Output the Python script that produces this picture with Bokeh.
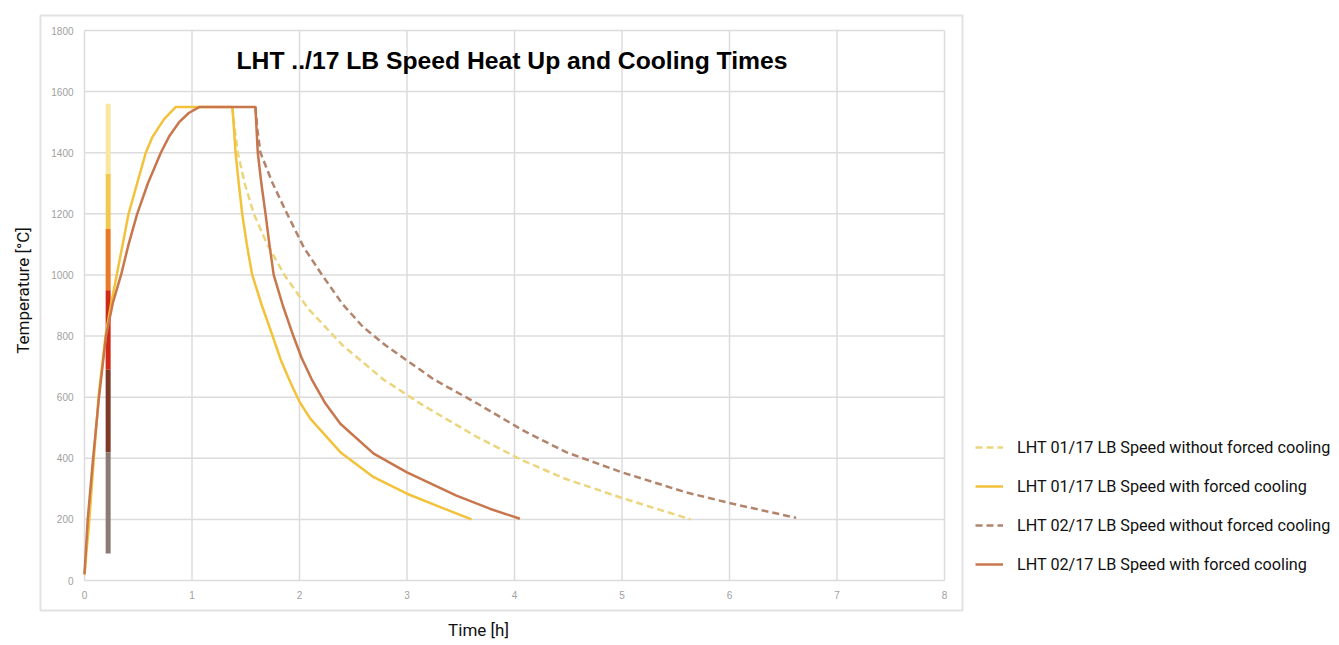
import math
from bokeh.plotting import figure
from bokeh.models import Legend, LegendItem, Label, Range1d
from bokeh.core.properties import value
from bokeh.embed import file_html
from bokeh.resources import INLINE

# ---------------- data ----------------
x_ticks = [0, 1, 2, 3, 4, 5, 6, 7, 8]
y_ticks = [0, 200, 400, 600, 800, 1000, 1200, 1400, 1600, 1800]

# LHT 01/17 with forced cooling (heat up, hold, forced cooling)
t01_forced = [0.0, 0.02, 0.04, 0.087, 0.133, 0.195, 0.25, 0.30, 0.355, 0.41, 0.49, 0.57, 0.63, 0.74, 0.85,
              1.375, 1.39, 1.405, 1.435, 1.467, 1.51, 1.56, 1.65, 1.75, 1.83, 1.92, 2.0, 2.10, 2.38, 2.69, 3.0, 3.31, 3.6]
T01_forced = [20, 100, 175, 400, 610, 800, 910, 1000, 1100, 1200, 1300, 1400, 1450, 1510, 1550,
              1550, 1480, 1400, 1300, 1200, 1100, 1000, 900, 800, 718, 645, 585, 530, 420, 338, 284, 240, 200]

# LHT 01/17 without forced cooling
t01_free = [1.375, 1.40, 1.426, 1.49, 1.575, 1.70, 1.86, 2.08, 2.40, 2.78, 3.15, 3.65, 4.08, 4.48, 5.0, 5.3, 5.64]
T01_free = [1550, 1470, 1400, 1300, 1200, 1100, 1000, 890, 770, 658, 573, 470, 392, 332, 270, 237, 200]

# LHT 02/17 with forced cooling
t02_forced = [0.0, 0.03, 0.08, 0.135, 0.20, 0.265, 0.34, 0.41, 0.49, 0.59, 0.71, 0.79, 0.88, 0.97, 1.07,
              1.59, 1.60, 1.612, 1.645, 1.684, 1.72, 1.76, 1.845, 1.943, 2.02, 2.12, 2.24, 2.38, 2.69, 3.0, 3.46, 3.77, 4.05]
T02_forced = [20, 200, 400, 600, 800, 910, 1000, 1100, 1200, 1300, 1400, 1455, 1500, 1530, 1550,
              1550, 1480, 1400, 1300, 1200, 1100, 1000, 900, 800, 728, 654, 580, 513, 415, 354, 278, 235, 202]

# LHT 02/17 without forced cooling
t02_free = [1.59, 1.61, 1.637, 1.75, 1.885, 2.04, 2.21, 2.4, 2.59, 2.8, 3.0, 3.25, 3.65, 4.08, 4.48, 5.0, 5.59, 6.03, 6.62]
T02_free = [1550, 1470, 1400, 1300, 1200, 1090, 1000, 905, 830, 770, 720, 658, 580, 491, 420, 354, 289, 251, 205]

# coloured vertical bar near the start
bar_t = 0.22
bar_T_top = [1560, 1330, 1150, 950, 690, 420]
bar_T_bottom = [1330, 1150, 950, 690, 420, 88]
bar_colors = ["#F8E7A0", "#F2C850", "#E97A28", "#D02A16", "#7E3A26", "#8C7B74"]

labels = ["LHT 01/17 LB Speed without forced cooling",
          "LHT 01/17 LB Speed with forced cooling",
          "LHT 02/17 LB Speed without forced cooling",
          "LHT 02/17 LB Speed with forced cooling"]
colors = ["#EBD57E", "#F2C23A", "#B3846C", "#C8764C"]

title_text = "LHT ../17 LB Speed Heat Up and Cooling Times"
x_title = "Time [h]"
y_title = "Temperature [°C]"

# ---------------- layout (page pixels) ----------------
W, H = 1337, 643
M = 0                                                   # observed page offset of the canvas
BOX = dict(left=40, right=962, top=15, bottom=610)      # light frame around the chart
AREA = dict(left=84, right=944, top=30, bottom=580)     # plotting area (0..8 h, 0..1800 °C)
sx = (AREA["right"] - AREA["left"]) / (x_ticks[-1] - x_ticks[0])
sy = (AREA["bottom"] - AREA["top"]) / (y_ticks[-1] - y_ticks[0])


def dx(px):
    return x_ticks[0] + (px - AREA["left"]) / sx


def dy(py):
    return y_ticks[0] + (AREA["bottom"] - py) / sy


p = figure(width=W, height=H, output_backend="svg", toolbar_location=None,
           x_range=Range1d(dx(M), dx(M + W)), y_range=Range1d(dy(M + H), dy(M)),
           x_axis_location=None, y_axis_location=None,
           min_border=0)
p.outline_line_color = None
p.background_fill_color = "white"
p.border_fill_color = "white"
p.grid.visible = False

# light frame around chart
p.quad(left=[dx(BOX["left"])], right=[dx(BOX["right"])],
       top=[dy(BOX["top"])], bottom=[dy(BOX["bottom"])],
       fill_alpha=0, line_color="#E2E2E2", line_width=2)

# grid lines from the tick lists
nx, ny = len(x_ticks), len(y_ticks)
p.segment(x0=x_ticks, x1=x_ticks, y0=[y_ticks[0]] * nx, y1=[y_ticks[-1]] * nx,
          line_color="#DCDCDC", line_width=1.5)
p.segment(x0=[x_ticks[0]] * ny, x1=[x_ticks[-1]] * ny, y0=y_ticks, y1=y_ticks,
          line_color="#DCDCDC", line_width=1.5)

# tick labels
p.text(x=x_ticks, y=[y_ticks[0]] * nx, text=[str(t) for t in x_ticks],
       text_align="center", text_baseline="top", y_offset=10,
       text_font=value("Liberation Sans"), text_font_size="10px", text_color="#A0A0A0")
p.text(x=[x_ticks[0]] * ny, y=y_ticks, text=[str(t) for t in y_ticks],
       text_align="right", text_baseline="middle", x_offset=-11,
       text_font=value("Liberation Sans"), text_font_size="10px", text_color="#A0A0A0")

# vertical coloured bar
p.segment(x0=[bar_t] * len(bar_T_top), x1=[bar_t] * len(bar_T_top),
          y0=bar_T_bottom, y1=bar_T_top, line_color=bar_colors,
          line_width=5, line_cap="butt")

r1 = p.line(t01_free, T01_free, line_color=colors[0], line_width=2.5, line_dash="7 4")
r3 = p.line(t02_free, T02_free, line_color=colors[2], line_width=2.5, line_dash="7 4")
r2 = p.line(t01_forced, T01_forced, line_color=colors[1], line_width=2.5)
r4 = p.line(t02_forced, T02_forced, line_color=colors[3], line_width=2.5)

legend = Legend(items=[LegendItem(label=labels[0], renderers=[r1]),
                       LegendItem(label=labels[1], renderers=[r2]),
                       LegendItem(label=labels[2], renderers=[r3]),
                       LegendItem(label=labels[3], renderers=[r4])],
                location=(975 - M, M + H - 575), orientation="vertical",
                label_text_font="Roboto", label_text_font_size="16.2px",
                label_text_color="#111111",
                glyph_width=28, glyph_height=22, label_height=22, label_standoff=14,
                spacing=17, padding=0, margin=0,
                border_line_color=None, background_fill_alpha=0)
p.add_layout(legend, "center")

p.add_layout(Label(x=dx(511.5), y=dy(60), text=title_text,
                   text_align="center", text_baseline="alphabetic",
                   text_font="Liberation Sans", text_font_size="24.7px",
                   text_font_style="bold", text_color="#000000"))
p.add_layout(Label(x=dx(478), y=dy(629), text=x_title,
                   text_align="center", text_baseline="middle",
                   text_font="Roboto", text_font_size="17px", text_color="#111111"))
p.add_layout(Label(x=dx(22), y=dy(290), text=y_title, angle=math.pi / 2,
                   text_align="center", text_baseline="middle",
                   text_font="Roboto", text_font_size="17px", text_color="#111111"))

open("out.html", "w").write(file_html(p, INLINE))
